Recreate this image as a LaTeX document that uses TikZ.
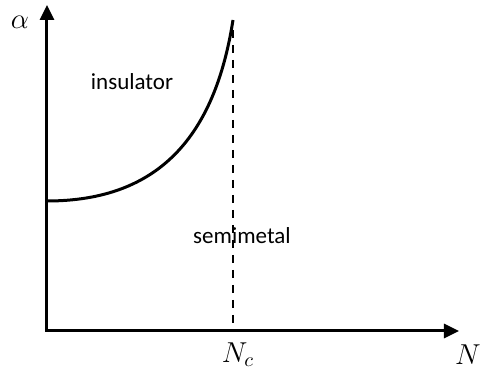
\documentclass[tikz,border=0pt]{standalone}
\usepackage{fontspec}
\setmainfont{Carlito}
\usetikzlibrary{arrows.meta}

\tikzset{
  axis/.style={line width=1.5pt, {Triangle[length=7.5pt,width=7pt]}-{Triangle[length=7.5pt,width=7pt]}},
  phase/.style={font=\fontsize{11.5}{14}\selectfont},
  mlabel/.style={font=\fontsize{14}{16}\selectfont}
}

\begin{document}
\begin{tikzpicture}[x=0.5pt,y=-0.5pt]
        \useasboundingbox (0,0) rectangle (484,368);

        % Axis end points
        \coordinate (ytop) at (47,5);
        \coordinate (origin) at (47,331);
        \coordinate (xend) at (459,331);

        % Draw axes
        \draw[axis] (ytop) -- (origin) -- (xend);

        % Axis labels
        \node[mlabel] (alpha) at (20,22) {$\alpha$};
        \node[mlabel] (nlab) at (468,355) {$N$};
        \node[mlabel] (nclab) at (238,355) {$N_c$};

        % Phase boundary
        \coordinate (cstart) at (47,201);
        \coordinate (cend) at (233,20);
        \draw[line width=1.5pt] (cstart) .. controls (160,201) and (215,135) .. (cend);

        % Critical line at N_c
        \coordinate (dtop) at (233,30);
        \coordinate (dfoot) at (233,331);
        \draw[line width=0.65pt, dash pattern=on 4pt off 3.5pt] (dtop) -- (dfoot);

        % Phase names
        \node[phase] (ins) at (132,82) {insulator};
        \node[phase] (semi) at (242,236) {semimetal};
\end{tikzpicture}
\end{document}
